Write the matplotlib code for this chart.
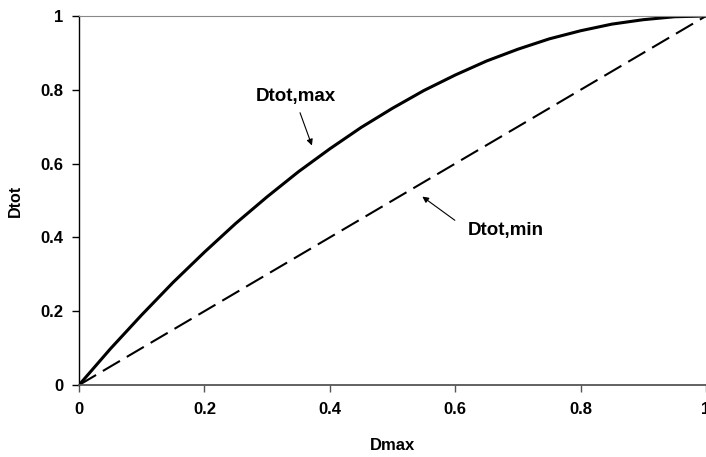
import matplotlib
matplotlib.use('Agg')
import matplotlib.pyplot as plt

# Dmax values and the two bounds of Dtot
dmax = [0.0, 0.05, 0.1, 0.15, 0.2, 0.25, 0.3, 0.35, 0.4, 0.45, 0.5,
        0.55, 0.6, 0.65, 0.7, 0.75, 0.8, 0.85, 0.9, 0.95, 1.0]
dtot_max = [0.0, 0.098, 0.19, 0.278, 0.36, 0.438, 0.51, 0.578, 0.64, 0.698, 0.75,
            0.798, 0.84, 0.878, 0.91, 0.938, 0.96, 0.978, 0.99, 0.998, 1.0]
dtot_min_x = [0.0, 1.0]
dtot_min = [0.0, 1.0]

xticks = [0, 0.2, 0.4, 0.6, 0.8, 1]
yticks = [0, 0.2, 0.4, 0.6, 0.8, 1]
tick_labels = ['0', '0.2', '0.4', '0.6', '0.8', '1']

plt.rcParams['font.family'] = ['Liberation Sans', 'DejaVu Sans']
plt.rcParams['font.weight'] = 'bold'
plt.rcParams['font.size'] = 12

fig = plt.figure(figsize=(7.06, 4.57), dpi=100)
ax = fig.add_axes([0.1119, 0.1575, 0.8881, 0.8075])

ax.plot(dmax, dtot_max, color='black', lw=2.2, solid_capstyle='butt')
ax.plot(dtot_min_x, dtot_min, color='black', lw=1.5, dashes=(9.5, 3.8))

ax.set_xlim(0, 1)
ax.set_ylim(0, 1)
ax.set_xticks(xticks)
ax.set_yticks(yticks)
ax.set_xticklabels(tick_labels, fontweight='bold', fontsize=12)
ax.set_yticklabels(tick_labels, fontweight='bold', fontsize=12)
ax.tick_params(axis='y', direction='out', length=5, width=1, color='black', pad=6)
ax.tick_params(axis='x', direction='out', length=5, width=1, color='#555555', pad=7)

ax.spines['right'].set_visible(False)
ax.spines['left'].set_color('black')
ax.spines['left'].set_linewidth(1)
ax.spines['top'].set_color('#888888')
ax.spines['top'].set_linewidth(0.8)
ax.spines['bottom'].set_color('#555555')
ax.spines['bottom'].set_linewidth(1.3)

ax.set_xlabel('Dmax', fontweight='bold', fontsize=12)
ax.set_ylabel('Dtot', fontweight='bold', fontsize=11.5)
ax.xaxis.set_label_coords(0.5, -0.143)
ax.yaxis.set_label_coords(-0.089, 0.5)

# labels with arrows
ax.text(0.346, 0.783, 'Dtot,max', ha='center', va='center', fontweight='bold', fontsize=13.5)
ax.annotate('', xy=(0.373, 0.642), xytext=(0.351, 0.745),
            arrowprops=dict(arrowstyle='-|>', color='black', lw=0.8, mutation_scale=9))
ax.text(0.620, 0.42, 'Dtot,min', ha='left', va='center', fontweight='bold', fontsize=13.5)
ax.annotate('', xy=(0.544, 0.515), xytext=(0.603, 0.442),
            arrowprops=dict(arrowstyle='-|>', color='black', lw=0.8, mutation_scale=9))

fig.savefig('out.png', dpi=100)
